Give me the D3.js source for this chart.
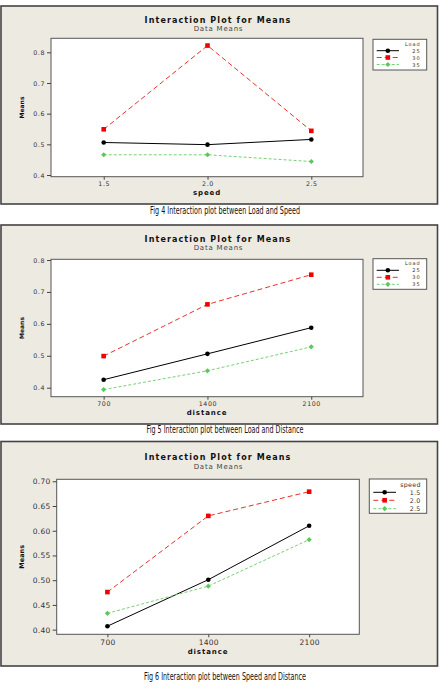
<!DOCTYPE html>
<html>
<head>
<meta charset="utf-8">
<script src="https://cdnjs.cloudflare.com/ajax/libs/d3/7.8.5/d3.min.js"></script>
<style>
  body { margin: 0; background: #fff; }
  text { font-family: "DejaVu Sans", sans-serif; }
</style>
</head>
<body>
<svg width="442" height="694"></svg>
<script>
// x levels
const speeds = [1.5, 2.0, 2.5]
const distances = [700, 1400, 2100]

// legend levels
const loads = ["25", "30", "35"]
const speedLevels = ["1.5", "2.0", "2.5"]

// means, one row per legend level
const loadBySpeed = [
    [0.506, 0.499, 0.516],
    [0.549, 0.822, 0.544],
    [0.466, 0.466, 0.444]
]
const loadByDistance = [
    [0.425, 0.506, 0.588],
    [0.499, 0.661, 0.754],
    [0.394, 0.453, 0.528]
]
const speedByDistance = [
    [0.407, 0.501, 0.610],
    [0.476, 0.630, 0.679],
    [0.433, 0.488, 0.582]
]

const ticks1 = [0.4, 0.5, 0.6, 0.7, 0.8]
const ticks3 = [0.40, 0.45, 0.50, 0.55, 0.60, 0.65, 0.70]

const captions = [
    "Fig 4 Interaction plot between Load and Speed",
    "Fig 5 Interaction plot between Load and Distance",
    "Fig 6 Interaction plot between Speed and Distance"
]

const markColor = ["#000", "#f00000", "#5cc85c"]
const lineColor = ["#000", "#e83030", "#78d078"]
const dash = [null, "5,3", "3,2"]

const svg = d3.select("svg")

function marker(g, i, x, y) {
    if (i == 0) {
        g.append("circle").attr("cx", x).attr("cy", y).attr("r", 2.3)
            .attr("fill", markColor[0])
    } else if (i == 1) {
        g.append("rect").attr("x", x - 2.3).attr("y", y - 2.3)
            .attr("width", 4.6).attr("height", 4.6).attr("fill", markColor[1])
    } else {
        g.append("path").attr("d", `M${x},${y - 2.6}L${x + 2.6},${y}L${x},${y + 2.6}L${x - 2.6},${y}Z`)
            .attr("fill", markColor[2])
    }
}

function panel(p) {
    const g = svg.append("g")

    g.append("rect")
        .attr("x", p.frame[0]).attr("y", p.frame[1])
        .attr("width", p.frame[2] - p.frame[0]).attr("height", p.frame[3] - p.frame[1])
        .attr("fill", "#edeae2").attr("stroke", "#444").attr("stroke-width", 1.6)

    const xScale = d3.scaleLinear().domain(p.xDomain).range([p.plot[0], p.plot[2]])
    const yScale = d3.scaleLinear().domain(p.yDomain).range([p.plot[3], p.plot[1]])

    g.append("rect")
        .attr("x", p.plot[0]).attr("y", p.plot[1])
        .attr("width", p.plot[2] - p.plot[0]).attr("height", p.plot[3] - p.plot[1])
        .attr("fill", "#fff").attr("stroke", "#555").attr("stroke-width", 1)

    const yAxis = g.append("g")
        .attr("transform", `translate(${p.plot[0]},0)`)
        .call(d3.axisLeft(yScale).tickValues(p.yTicks).tickFormat(d3.format(p.yFmt))
            .tickSize(4).tickPadding(2).tickSizeOuter(0))
    const xAxis = g.append("g")
        .attr("transform", `translate(0,${p.plot[3]})`)
        .call(d3.axisBottom(xScale).tickValues(p.x).tickFormat(d3.format(p.xFmt))
            .tickSize(3).tickPadding(2).tickSizeOuter(0))

    for (const a of [xAxis, yAxis]) {
        a.select(".domain").remove()
        a.selectAll("line").attr("stroke", "#444")
        a.selectAll("text").attr("font-family", "DejaVu Sans")
            .attr("font-size", p.tickFont).attr("letter-spacing", p.tickLs).attr("fill", "#333")
    }

    g.append("text").attr("x", 218).attr("y", p.titleY)
        .attr("text-anchor", "middle").attr("dominant-baseline", "central")
        .attr("font-size", 8).attr("font-weight", "bold").attr("letter-spacing", 1.1)
        .attr("fill", "#111")
        .text("Interaction Plot for Means")
    g.append("text").attr("x", 218.5).attr("y", p.subY)
        .attr("text-anchor", "middle").attr("dominant-baseline", "central")
        .attr("font-size", 7).attr("letter-spacing", 0.8).attr("fill", "#444")
        .text("Data Means")

    g.append("text").attr("x", (p.plot[0] + p.plot[2]) / 2).attr("y", p.xTitleY)
        .attr("text-anchor", "middle").attr("dominant-baseline", "central")
        .attr("font-size", 7).attr("font-weight", "bold").attr("letter-spacing", 0.9)
        .attr("fill", "#111")
        .text(p.xTitle)

    g.append("text")
        .attr("transform", `translate(21.5,${(p.plot[1] + p.plot[3]) / 2}) rotate(-90)`)
        .attr("text-anchor", "middle").attr("dominant-baseline", "central")
        .attr("font-size", p.meansFont).attr("font-weight", "bold").attr("fill", "#111")
        .text("Means")

    // lines and points
    const line = d3.line().x((d, i) => xScale(p.x[i])).y(d => yScale(d))
    p.values.forEach((vals, i) => {
        g.append("path").attr("d", line(vals)).attr("fill", "none")
            .attr("stroke", lineColor[i]).attr("stroke-width", 1)
            .attr("stroke-dasharray", dash[i])
        vals.forEach((v, j) => marker(g, i, xScale(p.x[j]), yScale(v)))
    })

    // legend
    const lg = p.legend
    g.append("rect").attr("x", lg.box[0]).attr("y", lg.box[1])
        .attr("width", lg.box[2] - lg.box[0]).attr("height", lg.box[3] - lg.box[1])
        .attr("fill", "#fff").attr("stroke", "#555").attr("stroke-width", 1)
    g.append("text").attr("x", lg.textX).attr("y", lg.titleY)
        .attr("text-anchor", "end").attr("dominant-baseline", "central")
        .attr("font-size", lg.font).attr("letter-spacing", lg.ls).attr("fill", "#333")
        .text(p.legendTitle)
    p.legendLabels.forEach((lab, i) => {
        const y = lg.rows[i]
        g.append("line").attr("x1", lg.line[0]).attr("x2", lg.line[1])
            .attr("y1", y).attr("y2", y)
            .attr("stroke", lineColor[i]).attr("stroke-dasharray", dash[i])
        marker(g, i, (lg.line[0] + lg.line[1]) / 2, y)
        g.append("text").attr("x", lg.textX).attr("y", y)
            .attr("text-anchor", "end").attr("dominant-baseline", "central")
            .attr("font-size", lg.font).attr("letter-spacing", lg.ls).attr("fill", "#333")
            .text(lab)
    })

    // caption below the frame
    svg.append("text").attr("x", 225).attr("y", p.captionY)
        .attr("text-anchor", "middle").attr("dominant-baseline", "central")
        .attr("font-family", "Liberation Serif").attr("font-size", 10.5)
        .attr("textLength", p.captionW).attr("lengthAdjust", "spacingAndGlyphs")
        .attr("fill", "#111")
        .text(p.caption)
}

panel({
    frame: [1, 6, 437.5, 204], plot: [51, 38.3, 363, 176.7],
    x: speeds, xFmt: ".1f", xDomain: [1.246, 2.749],
    yDomain: [0.3945, 0.8457], yTicks: ticks1, yFmt: ".1f",
    values: loadBySpeed, xTitle: "speed", legendTitle: "Load", legendLabels: loads,
    tickFont: 6.3, tickLs: 0.6, meansFont: 6,
    titleY: 20.7, subY: 29.3, xTitleY: 192.7,
    legend: {box: [373, 39.3, 426.7, 70], titleY: 43.7, rows: [50.7, 57.5, 64.5],
        line: [376.7, 399], textX: 420.5, font: 5, ls: 0.9},
    caption: captions[0], captionY: 210, captionW: 150
})

panel({
    frame: [1, 225, 437.5, 424], plot: [51, 259.3, 363, 396.7],
    x: distances, xFmt: "d", xDomain: [345, 2449],
    yDomain: [0.3718, 0.8022], yTicks: ticks1, yFmt: ".1f",
    values: loadByDistance, xTitle: "distance", legendTitle: "Load", legendLabels: loads,
    tickFont: 6.3, tickLs: 0.6, meansFont: 6,
    titleY: 239, subY: 248.3, xTitleY: 412.7,
    legend: {box: [373, 258.7, 426.7, 289.3], titleY: 263, rows: [270.3, 277.3, 284.3],
        line: [376.7, 399], textX: 420.5, font: 5, ls: 0.9},
    caption: captions[1], captionY: 429, captionW: 157
})

panel({
    frame: [1, 441.5, 437.5, 666], plot: [56.7, 479.3, 359.3, 634.3],
    x: distances, xFmt: "d", xDomain: [348, 2448],
    yDomain: [0.3906, 0.704], yTicks: ticks3, yFmt: ".2f",
    values: speedByDistance, xTitle: "distance", legendTitle: "speed", legendLabels: speedLevels,
    tickFont: 7.5, tickLs: 0.3, meansFont: 6.5,
    titleY: 457.3, subY: 467.3, xTitleY: 652,
    legend: {box: [369.3, 479, 426.7, 513.3], titleY: 484.3, rows: [492.3, 500.3, 508.7],
        line: [373.3, 396], textX: 420.7, font: 6.3, ls: 0.3},
    caption: captions[2], captionY: 676, captionW: 162
})
</script>
</body>
</html>
